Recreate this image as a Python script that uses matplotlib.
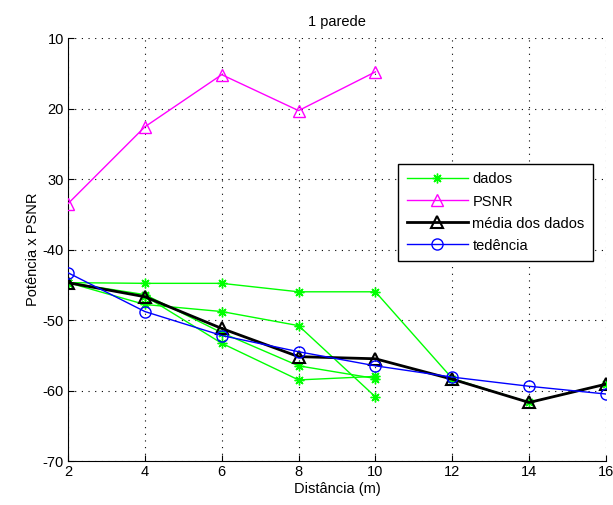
import numpy as np
import matplotlib
matplotlib.use("Agg")
import matplotlib.pyplot as plt

dist = [2, 4, 6, 8, 10, 12, 14, 16]
dist_short = [2, 4, 6, 8, 10]

# green raw series (one goes out to 16 m)
dados1 = [-44.7, -44.8, -44.8, -46.0, -46.0, -58.3, -61.7, -59.1]
dados2 = [-44.7, -47.8, -48.8, -50.8, -60.9]
dados3 = [-44.7, -46.4, -51.8, -56.5, -58.3]
dados4 = [-44.7, -46.6, -53.3, -58.5, -58.0]

psnr = [-33.5, -22.6, -15.2, -20.3, -14.8]
media = [-44.7, -46.7, -51.2, -55.2, -55.5, -58.4, -61.7, -59.1]
tendencia = [-43.3, -48.8, -52.2, -54.5, -56.5, -58.1, -59.4, -60.5]

yticks = [-70, -60, -50, -40, -30, -20, -10]
ytick_labels = ['-70', '-60', '-50', '-40', '30', '20', '10']

plt.rcParams['font.family'] = ['Liberation Sans', 'DejaVu Sans']
plt.rcParams['font.size'] = 10.5

fig = plt.figure(figsize=(6.13, 5.05), dpi=100)
ax = fig.add_axes([68 / 613, 1 - 461 / 505, 538 / 613, 423 / 505])

green = '#00ff00'
star = (8, 2, 0)  # matlab-style asterisk
ax.plot(dist, dados1, color=green, marker=star, markersize=7, mew=1, lw=1,
        label='dados', zorder=2)
for d in (dados2, dados3, dados4):
    ax.plot(dist_short, d, color=green, marker=star, markersize=7, mew=1, lw=1, zorder=2)
ax.plot(dist_short, psnr, color='#ff00ff', marker='^', markersize=9, mfc='none',
        lw=1, label='PSNR', zorder=3)
ax.plot(dist, media, color='black', marker='^', markersize=9, mfc='none', mew=1.5,
        lw=2, label='média dos dados', zorder=4)
ax.plot(dist, tendencia, color='#0000ff', marker='o', markersize=8, mfc='none',
        lw=1, label='tedência', zorder=5)

ax.set_xlim(2, 16)
ax.set_ylim(-70, -10)
ax.set_xticks(np.arange(2, 17, 2))
ax.set_yticks(yticks)
ax.set_yticklabels(ytick_labels)
ax.grid(True, color='black', linestyle=(0, (1, 5)), linewidth=0.8)
ax.spines['top'].set_visible(False)
ax.spines['right'].set_visible(False)
ax.tick_params(direction='in', length=4, pad=3)

ax.set_title('1 parede', fontsize=10.5, pad=9)
ax.set_xlabel('Distância (m)', labelpad=2)
ax.set_ylabel('Potência x PSNR', labelpad=2)

leg = ax.legend(loc='upper left', bbox_to_anchor=(0.6, 0.72), fancybox=False,
                edgecolor='black', framealpha=1, handlelength=4.2, borderpad=0.6,
                labelspacing=0.55, handletextpad=0.3)
leg.get_frame().set_linewidth(1)

plt.savefig('out.png', dpi=100)
